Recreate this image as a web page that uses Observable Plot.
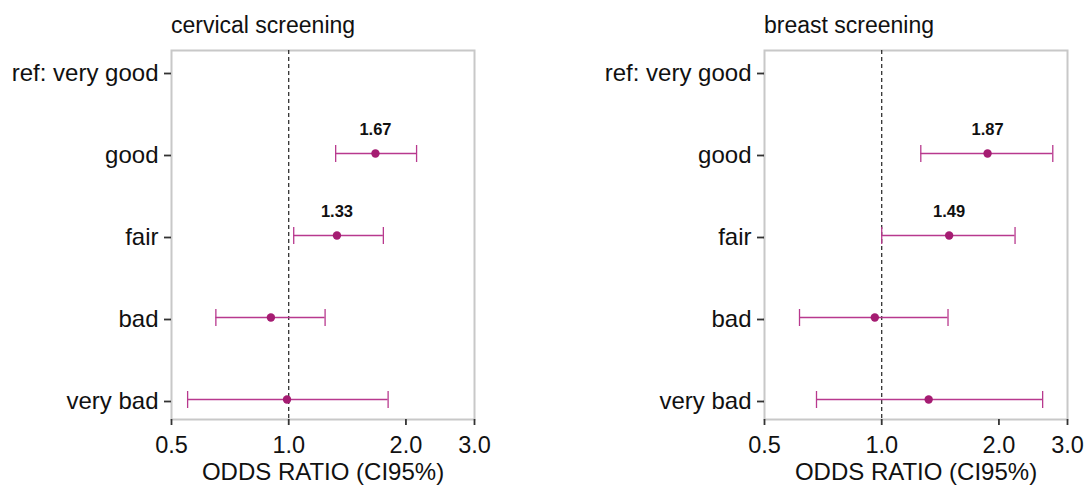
<!DOCTYPE html>
<html>
<head>
<meta charset="utf-8">
<script src="https://cdn.jsdelivr.net/npm/d3@7"></script>
<script src="https://cdn.jsdelivr.net/npm/@observablehq/plot@0.6"></script>
<style>
  html, body { margin: 0; padding: 0; background: #fff; }
  body { width: 1089px; height: 486px; overflow: hidden; font-family: "Liberation Sans", Arial, sans-serif; }
  #wrap { display: flex; width: 1089px; }
  .panel { display: flex; flex-direction: column; }
  .title { height: 44px; box-sizing: border-box; padding-top: 14px; line-height: 1; font-size: 23px; color: #111; white-space: nowrap; }
</style>
</head>
<body>
<div id="wrap"></div>
<script>
// ---- data ----
const categories = ["ref: very good", "good", "fair", "bad", "very bad"];
const estCategories = ["good", "fair", "bad", "very bad"];
const panelTitles = ["cervical screening", "breast screening"];

const cervicalOR   = [1.67, 1.33, 0.90, 0.99];
const cervicalLow  = [1.32, 1.03, 0.65, 0.55];
const cervicalHigh = [2.13, 1.75, 1.24, 1.80];
const cervicalShown = [true, true, false, false];

const breastOR   = [1.87, 1.49, 0.96, 1.32];
const breastLow  = [1.26, 1.00, 0.615, 0.68];
const breastHigh = [2.75, 2.20, 1.48, 2.59];
const breastShown = [true, true, false, false];

const xTicks = [0.5, 1, 2, 3];
const xLabel = "ODDS RATIO (CI95%)";
const refLine = [1];

const lineColor = "#b8398e";
const dotColor = "#a51c72";
const font = "'Liberation Sans', Arial, sans-serif";

// vertical bar symbol for the error-bar caps
const capSymbol = {
  draw(ctx, size) {
    const h = Math.sqrt(size / Math.PI);
    ctx.moveTo(0, -h);
    ctx.lineTo(0, h);
  }
};

function panel(title, ors, lows, highs, shown, width, ml, mr) {
  const rows = estCategories.map((c, i) => ({cat: c, or: ors[i], lo: lows[i], hi: highs[i], shown: shown[i]}));
  const chart = Plot.plot({
    width, height: 442,
    marginTop: 6, marginBottom: 67, marginLeft: ml, marginRight: mr,
    style: {fontFamily: font, fontSize: "23px", color: "#111", background: "white", overflow: "visible"},
    x: {type: "log", domain: [0.5, 3], axis: null},
    y: {type: "point", domain: categories, padding: 0.242, axis: null},
    marks: [
      Plot.frame({stroke: "#c8c8c8", strokeWidth: 2}),
      Plot.ruleX(refLine, {stroke: "#222", strokeWidth: 1.2, strokeDasharray: "4,3"}),
      Plot.ruleY(rows, {y: "cat", x1: "lo", x2: "hi", stroke: lineColor, strokeWidth: 1.3}),
      Plot.dot(rows, {x: "lo", y: "cat", symbol: capSymbol, r: 8.5, stroke: lineColor, strokeWidth: 1.3, fill: "none"}),
      Plot.dot(rows, {x: "hi", y: "cat", symbol: capSymbol, r: 8.5, stroke: lineColor, strokeWidth: 1.3, fill: "none"}),
      Plot.dot(rows, {x: "or", y: "cat", r: 4.2, fill: dotColor, stroke: null}),
      Plot.text(rows.filter(d => d.shown), {x: "or", y: "cat", text: d => d.or.toFixed(2), fontWeight: "bold", fontSize: 16.5, dy: -24, fill: "#111"}),
      Plot.axisY({tickSize: 7, tickPadding: 6, fontSize: 24, label: null, dy: 2, stroke: "#333", strokeWidth: 1.8}),
      Plot.axisX({ticks: xTicks, tickFormat: d3.format(".1f"), tickSize: 6, tickPadding: 11, fontSize: 23.5, label: null, stroke: "#333", strokeWidth: 1.8}),
      Plot.text([xLabel], {frameAnchor: "bottom", lineAnchor: "bottom", dy: 60, fontSize: 24, text: d => d, fill: "#111"})
    ]
  });
  const div = document.createElement("div");
  div.className = "panel";
  div.style.width = width + "px";
  const t = document.createElement("div");
  t.className = "title";
  t.style.paddingLeft = ml + "px";
  t.textContent = title;
  div.appendChild(t);
  div.appendChild(chart);
  return div;
}

const wrap = document.getElementById("wrap");
wrap.appendChild(panel(panelTitles[0], cervicalOR, cervicalLow, cervicalHigh, cervicalShown, 544, 171, 70));
wrap.appendChild(panel(panelTitles[1], breastOR, breastLow, breastHigh, breastShown, 545, 220, 22));
</script>
</body>
</html>
